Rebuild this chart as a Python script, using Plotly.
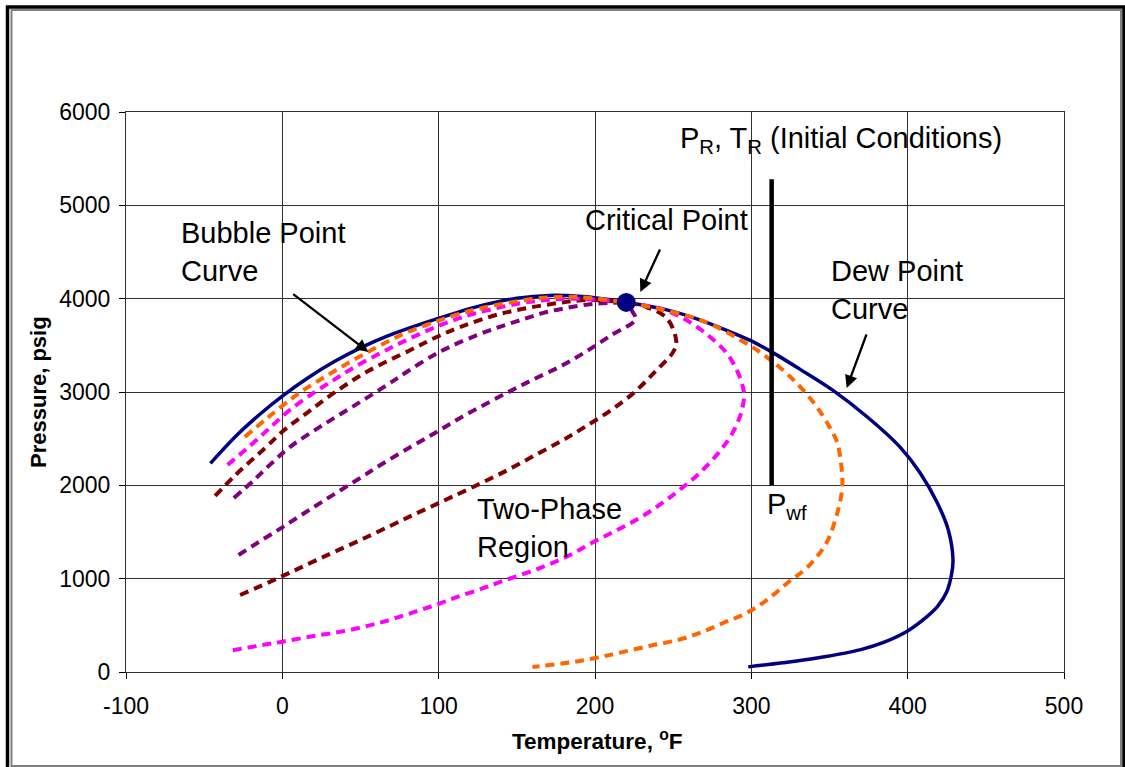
import plotly.graph_objects as go

# ---------------- data ----------------
env_T = [-46, -29, -14, 0, 16, 33, 50, 67, 88, 110, 127, 150, 171, 192, 205, 220,
         246, 267, 288, 299, 314, 331, 352, 374, 395, 408, 419, 426, 429, 428, 425, 419,
         410, 400, 385, 370, 342, 320, 298]
env_P = [2236, 2540, 2767, 2956, 3148, 3323, 3473, 3599, 3725, 3843, 3925, 4005, 4035, 4022, 3998, 3960,
         3880, 3773, 3633, 3555, 3419, 3245, 3020, 2735, 2412, 2133, 1811, 1522, 1200, 1040, 860, 700,
         560, 440, 320, 240, 150, 98, 55]

orange_left_T = [-24, -9, 6, 14, 26, 37, 50, 65, 80, 99, 116, 128, 157, 180, 195, 220]
orange_left_P = [2519, 2730, 2930, 3025, 3150, 3260, 3385, 3520, 3640, 3760, 3850, 3900, 3990, 4020, 4010, 3960]
orange_right_T = [220, 240, 261, 275, 293, 308, 325, 340, 350, 355, 358, 358, 355, 348, 336, 323,
                  310, 297, 282, 267, 253, 235, 214, 201, 186, 160]
orange_right_P = [3960, 3895, 3805, 3719, 3558, 3398, 3162, 2883, 2626, 2454, 2133, 1950, 1704, 1383, 1125, 954,
                  772, 632, 525, 418, 343, 280, 200, 152, 107, 54]

magenta_left_T = [-35, -20, -6, 5, 20, 33, 45, 63, 77, 93, 109, 125, 152, 169, 186, 203, 220]
magenta_left_P = [2219, 2433, 2647, 2810, 2990, 3130, 3255, 3420, 3537, 3660, 3765, 3850, 3950, 3985, 4000, 3988, 3960]
magenta_right_T = [220, 229, 240, 256, 272, 286, 295, 294, 288, 280, 267, 254, 243, 229, 214, 199, 184,
                   165, 141, 128, 112, 101, 85, 65, 43, 20, 0, -14, -33]
magenta_right_P = [3960, 3933, 3901, 3794, 3612, 3376, 3022, 2808, 2562, 2370, 2133, 1950, 1811, 1655, 1520, 1393, 1254,
                   1115, 975, 895, 805, 736, 646, 540, 450, 385, 325, 285, 230]

maroon_left_T = [-43, -30, -11, 1, 16, 33, 54, 82, 97, 114, 140, 173, 195, 220]
maroon_left_P = [1886, 2110, 2400, 2590, 2780, 2990, 3216, 3450, 3576, 3698, 3840, 3945, 3985, 3960]
maroon_right_T = [-27, -10, 1, 10, 22, 35, 52, 69, 82, 95, 109, 128, 146, 163, 179, 192, 208, 224,
                  238, 250, 252, 246, 233, 220]
maroon_right_P = [825, 950, 1035, 1105, 1200, 1300, 1430, 1565, 1670, 1770, 1880, 2030, 2180, 2335, 2480, 2610, 2780, 2980,
                  3210, 3430, 3540, 3790, 3910, 3960]

purple_left_T = [-31, -18, -8, 5, 24, 45, 67, 80, 97, 107, 125, 139, 153, 167, 182, 199, 212, 220]
purple_left_P = [1865, 2058, 2219, 2412, 2626, 2843, 3075, 3220, 3397, 3483, 3612, 3698, 3773, 3848, 3901, 3945, 3955, 3960]
purple_right_T = [-28, -12, 0, 12, 26, 48, 63, 82, 99, 114, 131, 147, 160, 178, 194, 210, 226, 224, 220]
purple_right_P = [1254, 1425, 1550, 1680, 1830, 2060, 2220, 2410, 2575, 2725, 2880, 3020, 3130, 3275, 3430, 3605, 3780, 3860, 3960]

crit_T = [220]
crit_P = [3960]

res_T = [313, 313]
res_P = [2000, 5280]

x_ticks = [-100, 0, 100, 200, 300, 400, 500]
y_ticks = [0, 1000, 2000, 3000, 4000, 5000, 6000]

# ---------------- figure ----------------
FONT = "Liberation Sans, Arial, sans-serif"
fig = go.Figure()

fig.add_trace(go.Scatter(x=env_T, y=env_P, mode="lines", line=dict(color="#000080", width=3.5, shape="spline"),
                         hoverinfo="skip"))

dash = "9px,6px"
for tx, py_, col in [
    (purple_right_T, purple_right_P, "#800080"),
    (purple_left_T, purple_left_P, "#800080"),
    (maroon_right_T, maroon_right_P, "#800000"),
    (maroon_left_T, maroon_left_P, "#800000"),
    (magenta_right_T, magenta_right_P, "#FF00FF"),
    (magenta_left_T, magenta_left_P, "#FF00FF"),
    (orange_right_T, orange_right_P, "#FF6600"),
    (orange_left_T, orange_left_P, "#FF6600"),
]:
    fig.add_trace(go.Scatter(x=tx, y=py_, mode="lines",
                             line=dict(color=col, width=4, dash=dash, shape="spline"),
                             hoverinfo="skip"))

fig.add_trace(go.Scatter(x=res_T, y=res_P, mode="lines", line=dict(color="black", width=4.5), hoverinfo="skip"))
fig.add_trace(go.Scatter(x=crit_T, y=crit_P, mode="markers",
                         marker=dict(color="#000080", size=19, line=dict(width=0)), hoverinfo="skip"))

ann_font = dict(family=FONT, size=29, color="black")
anns = [
    dict(x=-66, y=4505, text="Bubble Point<br>Curve", xanchor="left", yanchor="middle", align="left"),
    dict(x=246, y=4843, text="Critical Point", xanchor="center", yanchor="middle"),
    dict(x=253, y=5700, text="P<sub>R</sub>, T<sub>R</sub> (Initial Conditions)", xanchor="left", yanchor="middle"),
    dict(x=349.5, y=4093, text="Dew Point<br>Curve", xanchor="left", yanchor="middle", align="left"),
    dict(x=123, y=1538, text="Two-Phase<br>Region", xanchor="left", yanchor="middle", align="left"),
    dict(x=309, y=1780, text="P<sub>wf</sub>", xanchor="left", yanchor="middle", align="left"),
]
for a in anns:
    fig.add_annotation(showarrow=False, font=ann_font, **a)

# arrows (tail -> head)
for (tx, ty, hx, hy) in [(6, 4061, 55, 3429), (242, 4543, 229, 4072), (374, 3632, 361, 3043)]:
    fig.add_annotation(x=hx, y=hy, ax=tx, ay=ty, axref="x", ayref="y", xref="x", yref="y",
                       text="", showarrow=True, arrowhead=2, arrowsize=1.1, arrowwidth=2.3,
                       arrowcolor="black", standoff=0)

# axis titles
fig.add_annotation(xref="paper", yref="paper", x=(38 - 126) / 938, y=(672 - 392) / 560,
                   text="<b>Pressure, psig</b>", textangle=-90, showarrow=False,
                   font=dict(family=FONT, size=22, color="black"), xanchor="center", yanchor="middle")
fig.add_annotation(xref="paper", yref="paper", x=(597 - 126) / 938, y=(672 - 740) / 560,
                   text="<b>Temperature, <sup>o</sup>F</b>", showarrow=False,
                   font=dict(family=FONT, size=22.5, color="black"), xanchor="center", yanchor="middle")

# outer frame
def px(x):
    return (x - 126) / 938

def py(y):
    return (672 - y) / 560

fig.add_shape(type="rect", xref="paper", yref="paper", x0=px(7.5), x1=px(1124), y0=py(7), y1=py(772),
              line=dict(color="black", width=3.5), layer="above")
fig.add_shape(type="rect", xref="paper", yref="paper", x0=px(11.5), x1=px(1121), y0=py(10), y1=py(766),
              line=dict(color="#808080", width=2), layer="above")

axis_common = dict(showgrid=True, gridcolor="#303030", gridwidth=1, zeroline=False,
                   showline=True, linecolor="#303030", linewidth=1, mirror=True,
                   ticks="outside", ticklen=6, tickcolor="black", tickwidth=1,
                   tickfont=dict(family=FONT, size=23, color="black"))
fig.update_xaxes(range=[-100, 500], tickvals=x_ticks, ticktext=[str(v) for v in x_ticks],
                 ticklabelstandoff=7, **axis_common)
fig.update_yaxes(range=[0, 6000], tickvals=y_ticks, ticktext=[str(v) for v in y_ticks],
                 ticklabelstandoff=4, **axis_common)

fig.update_layout(width=1125, height=767, margin=dict(l=126, r=61, t=112, b=95),
                  paper_bgcolor="white", plot_bgcolor="white", showlegend=False,
                  font=dict(family=FONT))

fig.write_html("out.html")
